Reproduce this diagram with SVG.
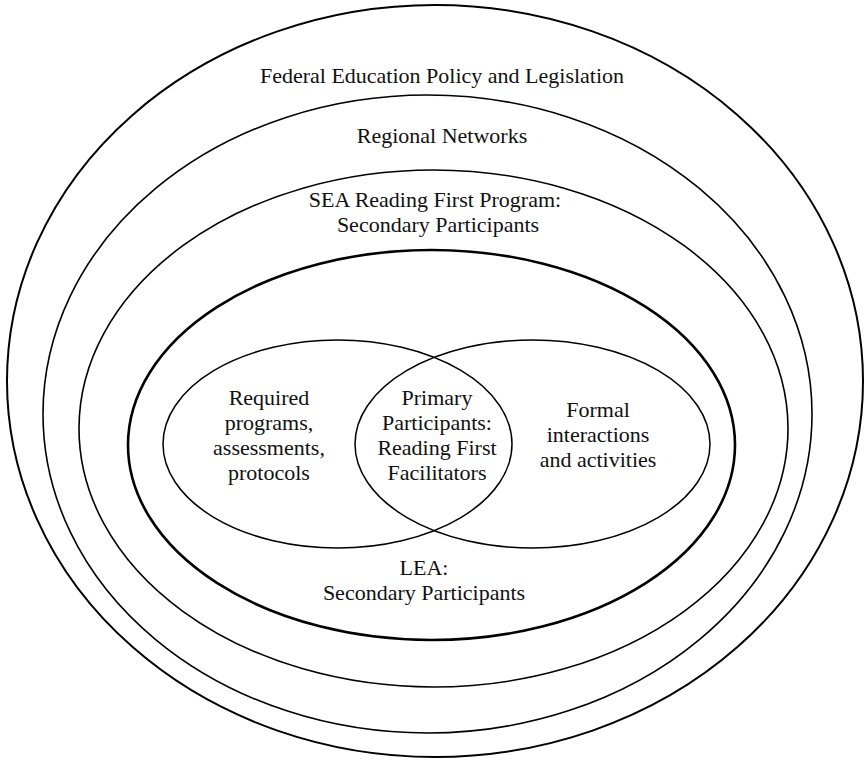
<svg xmlns="http://www.w3.org/2000/svg" width="864" height="760" viewBox="0 0 864 760">
  <style>
    .ring { fill: none; stroke: #000; }
    .label { font-family: "Liberation Serif", "Times New Roman", serif; font-size: 22px; fill: #111; text-anchor: middle; }
  </style>
  <rect width="864" height="760" fill="#fff"/>

  <g id="federal">
    <ellipse class="ring" cx="435" cy="381" rx="428" ry="376" stroke-width="2"/>
    <text class="label" x="442" y="83">Federal Education Policy and Legislation</text>
  </g>

  <g id="regional">
    <ellipse class="ring" cx="427.5" cy="414" rx="384.5" ry="319" stroke-width="1.6"/>
    <text class="label" x="442" y="143">Regional Networks</text>
  </g>

  <g id="sea">
    <ellipse class="ring" cx="433.5" cy="428.5" rx="354.5" ry="258.5" stroke-width="1.6"/>
    <text class="label" x="435" y="207">SEA Reading First Program:</text>
    <text class="label" x="438" y="232">Secondary Participants</text>
  </g>

  <g id="lea">
    <ellipse class="ring" cx="431.5" cy="445" rx="303.5" ry="195" stroke-width="2.6"/>
    <text class="label" x="424" y="575">LEA:</text>
    <text class="label" x="424" y="600">Secondary Participants</text>
  </g>

  <g id="required">
    <ellipse class="ring" cx="337.5" cy="444" rx="174.5" ry="104" stroke-width="1.5"/>
    <text class="label" x="269" y="405">Required</text>
    <text class="label" x="269" y="430">programs,</text>
    <text class="label" x="269" y="455">assessments,</text>
    <text class="label" x="269" y="480">protocols</text>
  </g>

  <g id="formal">
    <ellipse class="ring" cx="532.5" cy="444" rx="177.5" ry="104" stroke-width="1.5"/>
    <text class="label" x="598" y="417">Formal</text>
    <text class="label" x="598" y="442">interactions</text>
    <text class="label" x="598" y="467">and activities</text>
  </g>

  <g id="primary">
    <text class="label" x="437" y="405">Primary</text>
    <text class="label" x="437" y="430">Participants:</text>
    <text class="label" x="437" y="455">Reading First</text>
    <text class="label" x="437" y="480">Facilitators</text>
  </g>

  <g id="connectors"></g>
</svg>
